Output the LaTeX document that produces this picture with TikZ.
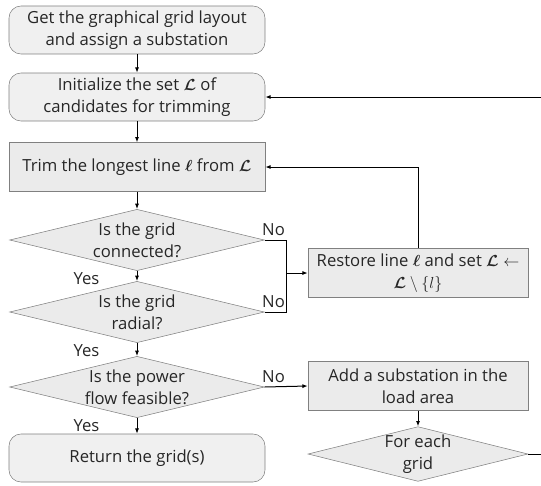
\documentclass[tikz,border=0pt]{standalone}
\usepackage{amssymb}
\usepackage{amsmath}
\usepackage{fontspec}
\setmainfont{Open Sans}
\usepackage{tikz}
\usetikzlibrary{shapes.geometric,arrows.meta}

\begin{document}
\begin{tikzpicture}[x=0.75pt,y=-0.75pt,font=\fontsize{12.5}{16.5}\selectfont]
	\tikzstyle{every node}=[align=center,inner sep=0pt,text=black!85]
	\tikzstyle{endbox}=[draw=black!50,fill=black!6,rounded corners=9pt,minimum width=192pt,minimum height=36pt]
	\tikzstyle{procbox}=[draw=black!50,fill=black!8,minimum width=192pt,minimum height=36.5pt]
	\tikzstyle{smallbox}=[draw=black!50,fill=black!8,minimum width=165pt,minimum height=36.5pt]
	\tikzstyle{decision}=[diamond,draw=black!50,fill=black!8,aspect=4.1,inner sep=-8pt,minimum width=191pt,minimum height=46pt]
	\tikzstyle{smalldec}=[diamond,draw=black!50,fill=black!8,aspect=4.1,inner sep=-8pt,minimum width=165pt,minimum height=41pt]
	\tikzstyle{arr}=[-{Latex[length=4pt,width=3pt]},line width=0.75pt]
	\useasboundingbox (0,0) rectangle (541,485);
	% main column
	\node[endbox] (get) at (137,30) {Get the graphical grid layout\\and assign a substation};
	\node[endbox] (init) at (137,97) {Initialize the set $\boldsymbol{\mathcal{L}}$ of\\candidates for trimming};
	\node[procbox] (trim) at (137,167) {Trim the longest line $\boldsymbol{\ell}$ from $\boldsymbol{\mathcal{L}}$};
	\node[decision] (conn) at (137,240) {Is the grid\\connected?};
	\node[decision] (rad) at (137,312) {Is the grid\\radial?};
	\node[decision] (feas) at (137,387) {Is the power\\flow feasible?};
	\node[endbox] (ret) at (137,458) {Return the grid(s)};
	% right column
	\node[smallbox] (rest) at (418,273) {Restore line $\boldsymbol{\ell}$ and set $\boldsymbol{\mathcal{L}}\leftarrow$\\$\boldsymbol{\mathcal{L}}\setminus\{l\}$};
	\node[smallbox] (add) at (418,386) {Add a substation in the\\load area};
	\node[smalldec] (each) at (418,454) {For each\\grid};
	\coordinate (jn) at (286,273);
	\foreach \a/\b in {get/init,init/trim,trim/conn,conn/rad,rad/feas,feas/ret,add/each}
		\draw[arr] (\a) -- (\b);
	\draw[line width=0.75pt] (conn.east) -| (jn);
	\draw[line width=0.75pt] (rad.east) -| (jn);
	\draw[arr] (jn) -- (rest.west);
	\draw[arr] (feas.east) -- (add.west);
	\draw[arr] (rest.north) |- (trim.east);
	\draw[arr] (each.east) -- ++(30,0) |- (init.east);
	% labels
	\foreach \n in {conn,rad,feas}
	{\node[anchor=south west] (no\n) at ([xshift=-2pt,yshift=3pt]\n.east) {No};
		\node[anchor=north east] (yes\n) at ([xshift=-28pt,yshift=-1pt]\n.south) {Yes};}
\end{tikzpicture}
\end{document}
